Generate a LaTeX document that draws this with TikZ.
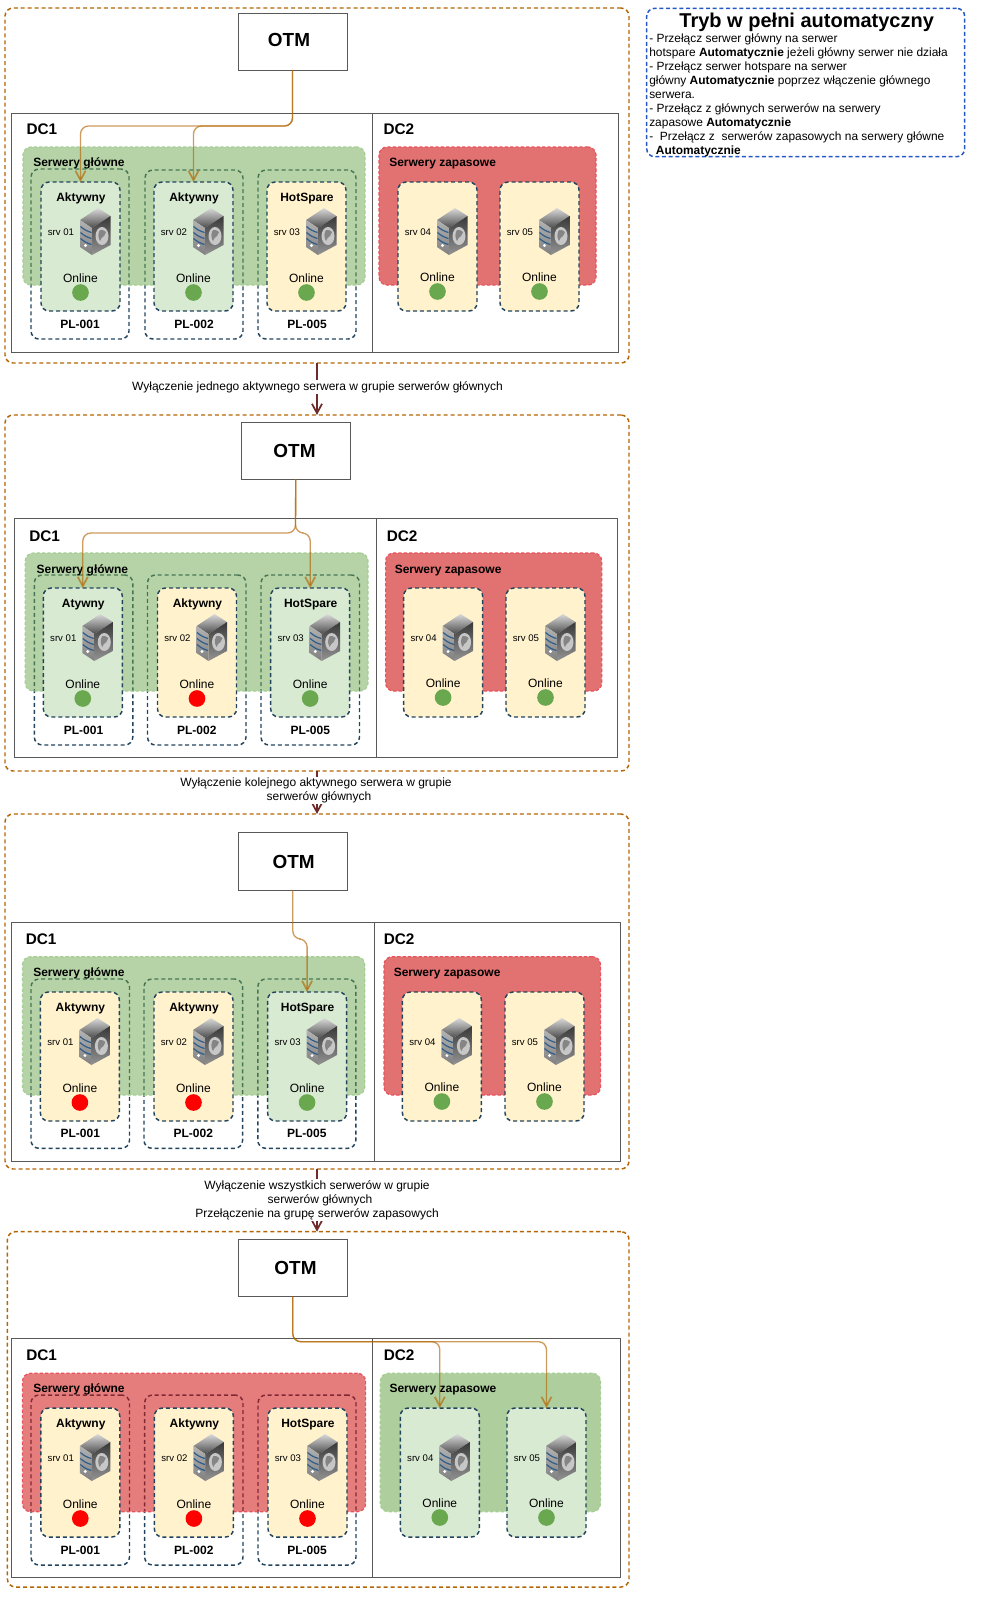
\documentclass[tikz,border=0pt]{standalone}
\usepackage{fontspec}
\setmainfont{Liberation Sans}
\usetikzlibrary{arrows.meta,positioning,calc}
\definecolor{orangeline}{HTML}{B46504}
\definecolor{tealline}{HTML}{23445D}
\definecolor{stepline}{HTML}{6F2A2A}
\definecolor{noteline}{HTML}{2457C5}
\definecolor{cardgreen}{HTML}{D9EAD3}
\definecolor{cardyellow}{HTML}{FFF2CC}
\definecolor{dotgreen}{HTML}{6AA84F}
\definecolor{dotred}{HTML}{FF0000}
\definecolor{grpgreenfill}{HTML}{6BA74D}
\definecolor{grpredfill}{HTML}{CF1212}
\definecolor{grpgreenline}{HTML}{A5CE94}
\definecolor{grpredline}{HTML}{E8525C}
\definecolor{iconblue}{HTML}{2F5D8A}
\tikzset{
	outerbox/.style={draw=orangeline,line width=1.1pt,dash pattern=on 3pt off 2.2pt,rounded corners=6pt},
	notebox/.style={draw=noteline,line width=1.1pt,dash pattern=on 3pt off 2pt,rounded corners=6pt},
	otmbox/.style={draw=black!65,fill=white,line width=.7pt},
	dcbox/.style={draw=black!65,line width=.7pt},
	plbox/.style={draw=tealline,line width=1.1pt,dash pattern=on 3pt off 2.2pt,rounded corners=6pt},
	grpgreen/.style={draw=grpgreenline,fill=grpgreenfill,fill opacity=.5,line width=.9pt,dash pattern=on 2.5pt off 1.5pt,rounded corners=6pt},
	grpred/.style={draw=grpredline,fill=grpredfill,fill opacity=.6,line width=.9pt,dash pattern=on 2.5pt off 1.5pt,rounded corners=6pt},
	cardbox/.style={draw=tealline,line width=1.1pt,dash pattern=on 3pt off 2.2pt,rounded corners=6pt},
	dotnode/.style={circle,inner sep=0pt,minimum size=12.5pt},
	otmtext/.style={font=\fontsize{14.2}{16}\selectfont\bfseries,inner sep=0pt},
	dctext/.style={font=\fontsize{11.5}{13}\selectfont\bfseries,inner sep=0pt,anchor=west},
	grptext/.style={font=\fontsize{9}{11}\selectfont\bfseries,inner sep=0pt,anchor=west,text height=6.6pt,text depth=1.9pt,yshift=-1.2pt},
	boldtext/.style={font=\fontsize{9}{11}\selectfont\bfseries,inner sep=0pt,text height=6.6pt,text depth=1.9pt,yshift=-1pt},
	plaintext/.style={font=\fontsize{9}{11}\selectfont,inner sep=0pt},
	srvtext/.style={font=\fontsize{7.2}{9}\selectfont,inner sep=0pt},
	steplabel/.style={font=\fontsize{9}{10.5}\selectfont,fill=white,inner sep=1pt,align=center},
	flowline/.style={draw=orangeline,draw opacity=.65,line width=1pt,rounded corners=6pt,-{Straight Barb[length=7pt,width=7.5pt,line width=1.3pt]}},
	stepedge/.style={draw=stepline,line width=1pt,-{Straight Barb[length=7pt,width=7.5pt,line width=1.3pt]}},
}
% box given by its corners, in pixels of the picture
\newcommand{\pxbox}[6]{\node (#2) [#1,inner sep=0pt,outer sep=0pt,anchor=north west,minimum width=(#5-#3)*0.75pt,minimum height=(#6-#4)*0.75pt] at (#3,#4) {};}
% the server drawing
\newcommand{\srvicon}[2]{
	\begin{scope}[shift={(#1,#2)}]
		\shade[top color=white!85!black,bottom color=black!70] (0,12)--(18,0)--(30.5,8)--(12,20)--cycle;
		\shade[top color=black!30,bottom color=black!50] (0,12)--(12,20)--(12,47)--(0,39)--cycle;
		\shade[top color=black!78,bottom color=black!42] (12,20)--(30.5,8)--(30.5,37)--(12,47)--cycle;
		\draw[iconblue,line width=.9pt] (.5,18.5) to[bend right=12] (11.5,24.5);
		\draw[iconblue,line width=.9pt] (.5,24.5) to[bend right=12] (11.5,30.5);
		\draw[iconblue,line width=.9pt] (.5,30.5) to[bend right=12] (11.5,36.5);
		\fill[white] (5.5,37.5) circle (1.6);
		\fill[black!22] (22,28) ellipse (6.5 and 9);
		\fill[black!48] (20,22) to[bend left=25] (26,24) to[bend left=10] (24,28) to[bend right=20] (20,33) to[bend left=30] cycle;
	\end{scope}
}
% one server card: name, x, y, fill, title, srv text, dot colour
\newcommand{\srvcard}[7]{
	\pxbox{cardbox,fill=#4}{#1}{#2}{#3}{#2+79}{#3+129}
	\node (#1t) [boldtext] at (#2+40,#3+15) {#5};
	\node (#1s) [srvtext] at (#2+20,#3+49.7) {#6};
	\srvicon{#2+39}{#3+26}
	\node (#1o) [plaintext] at (#2+39.5,#3+96) {Online};
	\node (#1d) [dotnode,fill=#7] at (#2+39.5,#3+110.5) {};
}
% same card without a title, for the second room
\newcommand{\sparecard}[6]{
	\pxbox{cardbox,fill=#4}{#1}{#2}{#3}{#2+79}{#3+129}
	\node (#1s) [srvtext] at (#2+20,#3+49.7) {#5};
	\srvicon{#2+39}{#3+26}
	\node (#1o) [plaintext] at (#2+39.5,#3+95) {Online};
	\node (#1d) [dotnode,fill=#6] at (#2+39.5,#3+109.5) {};
}
% dashed box round a card, with its label
\newcommand{\plgroup}[6]{
	\pxbox{plbox}{#1}{#2}{#3}{#4}{#5}
	\node (#1t) [boldtext] at (#2/2+#4/2,#5-15) {#6};
}
\begin{document}
\begin{tikzpicture}[x=0.75pt,y=-0.75pt]
	\useasboundingbox (0,0) rectangle (985,1607);

	% first panel
	\pxbox{outerbox}{outerA}{5}{8}{629}{363}
	\pxbox{otmbox}{otmA}{238}{13}{347}{70}
	\node (otmAt) [otmtext] at (289,40) {OTM};
	\pxbox{dcbox}{dcAa}{11.5}{113}{372}{352}
	\pxbox{dcbox}{dcAb}{372}{113}{618}{352}
	\node (dcAat) [dctext] at (26.3,129.3) {DC1};
	\node (dcAbt) [dctext] at (383.3,129.3) {DC2};
	\plgroup{plAa}{31}{169}{129}{339}{PL-001}
	\plgroup{plAb}{145}{170}{243}{339}{PL-002}
	\plgroup{plAc}{258}{170}{356}{339}{PL-005}
	\pxbox{grpgreen}{grpAa}{23}{147}{365}{285}
	\pxbox{grpred}{grpAb}{379}{147}{596}{285}
	\node (grpAat) [grptext] at (33,162) {Serwery główne};
	\node (grpAbt) [grptext] at (389,162) {Serwery zapasowe};
	\srvcard{cardAa}{41}{182}{cardgreen}{Aktywny}{srv 01}{dotgreen}
	\srvcard{cardAb}{154}{182}{cardgreen}{Aktywny}{srv 02}{dotgreen}
	\srvcard{cardAc}{267}{182}{cardyellow}{HotSpare}{srv 03}{dotgreen}
	\sparecard{cardAd}{398}{182}{cardyellow}{srv 04}{dotgreen}
	\sparecard{cardAe}{500}{182}{cardyellow}{srv 05}{dotgreen}
	\coordinate (busA) at (292.5,126);
	\draw[flowline] (otmA.south) -- (busA) -| (cardAa.north);
	\draw[flowline] (otmA.south) -- (busA) -| (cardAb.north);

	% second panel
	\pxbox{outerbox}{outerB}{5}{415}{629}{771}
	\pxbox{otmbox}{otmB}{241}{422}{350.5}{479}
	\node (otmBt) [otmtext] at (294.5,451) {OTM};
	\pxbox{dcbox}{dcBa}{14.3}{518.7}{376}{757.7}
	\pxbox{dcbox}{dcBb}{376}{518.7}{617.6}{757.7}
	\node (dcBat) [dctext] at (29,536) {DC1};
	\node (dcBbt) [dctext] at (386.5,536) {DC2};
	\plgroup{plBa}{34.3}{575}{132.8}{745}{PL-001}
	\plgroup{plBb}{147.5}{575}{246}{745}{PL-002}
	\plgroup{plBc}{261}{575}{359.5}{745}{PL-005}
	\pxbox{grpgreen}{grpBa}{25.3}{553}{368}{691}
	\pxbox{grpred}{grpBb}{385.6}{553}{601.7}{691}
	\node (grpBat) [grptext] at (36.4,568.3) {Serwery główne};
	\node (grpBbt) [grptext] at (394.5,568.3) {Serwery zapasowe};
	\srvcard{cardBa}{43.3}{588}{cardgreen}{Atywny}{srv 01}{dotgreen}
	\srvcard{cardBb}{157.5}{588}{cardyellow}{Aktywny}{srv 02}{dotred}
	\srvcard{cardBc}{270.7}{588}{cardgreen}{HotSpare}{srv 03}{dotgreen}
	\sparecard{cardBd}{403.6}{588}{cardyellow}{srv 04}{dotgreen}
	\sparecard{cardBe}{506}{588}{cardyellow}{srv 05}{dotgreen}
	\coordinate (busB) at (295.5,533);
	\draw[flowline] (otmB.south) -- (busB) -| (cardBa.north);
	\draw[flowline] (otmB.south) -- (busB) -| (cardBc.north);

	% third panel
	\pxbox{outerbox}{outerC}{5}{814}{629}{1169}
	\pxbox{otmbox}{otmC}{238.6}{832.7}{347}{890}
	\node (otmCt) [otmtext] at (293.7,861.7) {OTM};
	\pxbox{dcbox}{dcCa}{11}{922.3}{374.6}{1161}
	\pxbox{dcbox}{dcCb}{374.6}{922.3}{620.5}{1161}
	\node (dcCat) [dctext] at (25.5,939.5) {DC1};
	\node (dcCbt) [dctext] at (383.5,939.5) {DC2};
	\plgroup{plCa}{31}{979}{129.5}{1148.3}{PL-001}
	\plgroup{plCb}{144}{979}{242.6}{1148.3}{PL-002}
	\plgroup{plCc}{257.8}{979}{355.8}{1148.3}{PL-005}
	\pxbox{grpgreen}{grpCa}{22.5}{956.7}{364.8}{1095}
	\pxbox{grpred}{grpCb}{384}{956.7}{600.5}{1095}
	\node (grpCat) [grptext] at (33,972) {Serwery główne};
	\node (grpCbt) [grptext] at (393.5,972) {Serwery zapasowe};
	\srvcard{cardCa}{40.4}{992}{cardyellow}{Aktywny}{srv 01}{dotred}
	\srvcard{cardCb}{154}{992}{cardyellow}{Aktywny}{srv 02}{dotred}
	\srvcard{cardCc}{267.6}{992}{cardgreen}{HotSpare}{srv 03}{dotgreen}
	\sparecard{cardCd}{402.4}{992}{cardyellow}{srv 04}{dotgreen}
	\sparecard{cardCe}{505}{992}{cardyellow}{srv 05}{dotgreen}
	\coordinate (busC) at (292.8,939);
	\draw[flowline] (otmC.south) -- (busC) -| (cardCc.north);

	% fourth panel
	\pxbox{outerbox}{outerD}{7.4}{1231.7}{629}{1587}
	\pxbox{otmbox}{otmD}{238.6}{1239.3}{347}{1296.7}
	\node (otmDt) [otmtext] at (295.5,1267.7) {OTM};
	\pxbox{dcbox}{dcDa}{11.4}{1338.7}{372}{1577.7}
	\pxbox{dcbox}{dcDb}{372}{1338.7}{620}{1577.7}
	\node (dcDat) [dctext] at (26,1355.5) {DC1};
	\node (dcDbt) [dctext] at (383.5,1355.5) {DC2};
	\plgroup{plDa}{31}{1395}{129.5}{1565}{PL-001}
	\plgroup{plDb}{144.6}{1395}{243}{1565}{PL-002}
	\plgroup{plDc}{258}{1395}{356}{1565}{PL-005}
	\pxbox{grpred,fill opacity=.55}{grpDa}{22.5}{1373.3}{365.6}{1511.7}
	\pxbox{grpgreen,fill opacity=.55}{grpDb}{380.3}{1373.3}{600.5}{1511.7}
	\node (grpDat) [grptext] at (33,1388) {Serwery główne};
	\node (grpDbt) [grptext] at (389.3,1388) {Serwery zapasowe};
	\srvcard{cardDa}{40.8}{1408}{cardyellow}{Aktywny}{srv 01}{dotred}
	\srvcard{cardDb}{154.4}{1408}{cardyellow}{Aktywny}{srv 02}{dotred}
	\srvcard{cardDc}{268}{1408}{cardyellow}{HotSpare}{srv 03}{dotred}
	\sparecard{cardDd}{400.3}{1408}{cardgreen}{srv 04}{dotgreen}
	\sparecard{cardDe}{507}{1408}{cardgreen}{srv 05}{dotgreen}
	\coordinate (busD) at (292.8,1341.7);
	\draw[flowline] (otmD.south) -- (busD) -| (cardDd.north);
	\draw[flowline] (otmD.south) -- (busD) -| (cardDe.north);

	% steps between the panels
	\draw[stepedge] (outerA.south) -- (outerB.north);
	\node (stepA) [steplabel] at (317.5,387) {Wyłączenie jednego aktywnego serwera w grupie serwerów głównych};
	\draw[stepedge] (outerB.south) -- (outerC.north);
	\node (stepB) [steplabel] at (316,790.5) {Wyłączenie kolejnego aktywnego serwera w grupie\\\hspace*{4.5pt}serwerów głównych};
	\draw[stepedge] (outerC.south) -- (outerC.south |- outerD.north);
	\node (stepC) [steplabel] at (317,1200) {Wyłączenie wszystkich serwerów w grupie\\\hspace*{4.5pt}serwerów głównych\\Przełączenie na grupę serwerów zapasowych};

	% note on the right
	\pxbox{notebox}{noteA}{646.7}{8.3}{964.7}{156.7}
	\node (noteAt) [font=\fontsize{15}{17}\selectfont\bfseries,inner sep=0pt] at (806.7,22) {Tryb w pełni automatyczny};
	\node (noteAb) [font=\fontsize{8.95}{10.5}\selectfont,inner sep=0pt,anchor=north west,align=left] at (649,33) {- Przełącz serwer główny na serwer\\hotspare \textbf{Automatycznie} jeżeli główny serwer nie działa\\- Przełącz serwer hotspare na serwer\\główny \textbf{Automatycznie} poprzez włączenie głównego\\serwera.\\- Przełącz z głównych serwerów na serwery\\zapasowe \textbf{Automatycznie}\\-\ \ Przełącz z\ \ serwerów zapasowych na serwery główne\\\hspace*{5pt}\textbf{Automatycznie}};
\end{tikzpicture}
\end{document}
